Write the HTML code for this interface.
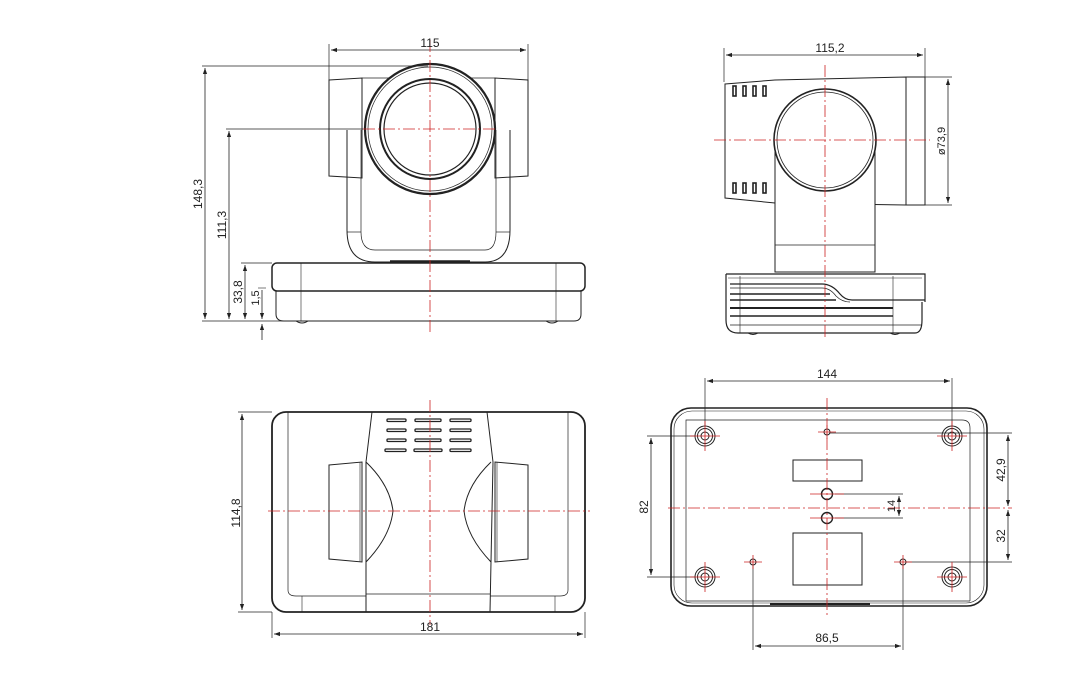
<!DOCTYPE html>
<html><head><meta charset="utf-8"><style>
html,body{margin:0;padding:0;background:#fff}
svg{display:block}
text{font-family:"Liberation Sans",sans-serif;font-size:12px;fill:#222}
</style></head><body>
<svg width="1071" height="680" viewBox="0 0 1071 680" xmlns="http://www.w3.org/2000/svg">
<defs>
<marker id="a" viewBox="0 0 10 10" refX="10" refY="5" markerWidth="8" markerHeight="6" orient="auto-start-reverse" markerUnits="userSpaceOnUse"><path d="M0,1.5 L10,5 L0,8.5 Z" fill="#222"/></marker>
</defs>
<g fill="none" stroke="#222" stroke-width="1">
<!-- ===== FRONT VIEW ===== -->
<line x1="329" y1="44" x2="329" y2="80" stroke-width="0.7"/>
<line x1="528" y1="44" x2="528" y2="80" stroke-width="0.7"/>
<line x1="331" y1="50" x2="526" y2="50" marker-start="url(#a)" marker-end="url(#a)" stroke-width="0.8"/>
<!-- ears -->
<path d="M329,80 L362,78 L362,178 L329,176 Z"/>
<path d="M528,80 L495,78 L495,178 L528,176 Z"/>
<line x1="362" y1="78" x2="400" y2="78" stroke-width="0.7"/>
<line x1="462" y1="78" x2="495" y2="78" stroke-width="0.7"/>
<!-- yoke -->
<path d="M347,130 L347,230 Q347,262 375,262 L485,262 Q510,262 510,230 L510,130"/>
<path d="M361,130 L361,232 Q361,250 375,250 L485,250 Q496,250 496,232 L496,130" stroke-width="0.7"/>
<line x1="347" y1="232" x2="361" y2="232" stroke-width="0.7"/>
<line x1="496" y1="232" x2="510" y2="232" stroke-width="0.7"/>
<!-- lens -->
<circle cx="430" cy="129" r="65" fill="#fff" stroke-width="2.2"/>
<circle cx="430" cy="129" r="62" stroke-width="0.7"/>
<circle cx="430" cy="129" r="50" stroke-width="2"/>
<circle cx="430" cy="129" r="46" stroke-width="1.2"/>
<!-- base -->
<rect x="272" y="263" width="313" height="28" rx="5" stroke-width="1.5"/>
<path d="M276,291 L276,314 Q276,321 284,321 L574,321 Q581,321 581,314 L581,291"/>
<line x1="301" y1="263" x2="301" y2="321" stroke-width="0.6"/>
<line x1="556" y1="263" x2="556" y2="321" stroke-width="0.6"/>
<line x1="390" y1="261" x2="470" y2="261" stroke-width="1.5"/>
<path d="M296,321 Q302,325 308,321 M546,321 Q552,325 558,321"/>
<!-- front dims -->
<line x1="202" y1="66" x2="428" y2="66" stroke-width="0.7"/>
<line x1="226" y1="129" x2="363" y2="129" stroke-width="0.8"/>
<line x1="241" y1="263" x2="272" y2="263" stroke-width="0.7"/>
<line x1="202" y1="321" x2="300" y2="321" stroke-width="0.7"/>
<line x1="258" y1="288" x2="266" y2="288" stroke-width="0.6"/>
<line x1="205" y1="68" x2="205" y2="319" marker-start="url(#a)" marker-end="url(#a)" stroke-width="0.8"/>
<line x1="229" y1="131" x2="229" y2="319" marker-start="url(#a)" marker-end="url(#a)" stroke-width="0.8"/>
<line x1="245" y1="265" x2="245" y2="319" marker-start="url(#a)" marker-end="url(#a)" stroke-width="0.8"/>
<line x1="262" y1="290" x2="262" y2="319" marker-end="url(#a)" stroke-width="0.8"/>
<line x1="262" y1="340" x2="262" y2="324" marker-end="url(#a)" stroke-width="0.8"/>

<!-- ===== SIDE VIEW ===== -->
<line x1="724" y1="48" x2="724" y2="82" stroke-width="0.7"/>
<line x1="925" y1="48" x2="925" y2="78" stroke-width="0.7"/>
<line x1="726" y1="55" x2="923" y2="55" marker-start="url(#a)" marker-end="url(#a)" stroke-width="0.8"/>
<path d="M725,84 L775,80 L906,77 L906,205 L775,203 L725,198 Z"/>
<rect x="906" y="77" width="19" height="128"/>
<line x1="925" y1="77" x2="952" y2="77" stroke-width="0.7"/>
<line x1="925" y1="205" x2="952" y2="205" stroke-width="0.7"/>
<line x1="948" y1="79" x2="948" y2="203" marker-start="url(#a)" marker-end="url(#a)" stroke-width="0.8"/>
<g stroke-width="1.6">
<rect x="733" y="86" width="3" height="10"/><rect x="743" y="86" width="3" height="10"/><rect x="753" y="86" width="3" height="10"/><rect x="763" y="86" width="3" height="10"/>
<rect x="733" y="183" width="3" height="10"/><rect x="743" y="183" width="3" height="10"/><rect x="753" y="183" width="3" height="10"/><rect x="763" y="183" width="3" height="10"/>
</g>
<path d="M775,140 L775,272 L875,272 L875,140" fill="#fff"/>
<line x1="775" y1="245" x2="875" y2="245" stroke-width="0.7"/>
<circle cx="825" cy="140" r="51" fill="#fff" stroke-width="1.6"/>
<circle cx="825" cy="140" r="48" stroke-width="0.8"/>
<!-- side base -->
<path d="M726,274 L925,274 L925,302 M726,274 L726,320 Q726,333 738,333 L915,333 Q922,333 922,320 L922,302" stroke-width="1.2"/>
<line x1="728" y1="278" x2="922" y2="278" stroke-width="0.6"/>
<line x1="740" y1="276" x2="740" y2="333" stroke-width="0.6"/>
<line x1="893" y1="276" x2="893" y2="333" stroke-width="0.6"/>
<path d="M730,284 L822,284 Q832,284 840,294 Q845,300 852,300 L925,300" stroke-width="1.2"/>
<path d="M730,288 L822,288 Q830,288 836,296 Q842,302 850,302" stroke-width="0.7"/>
<line x1="730" y1="294" x2="830" y2="294" stroke-width="1.5"/>
<line x1="730" y1="300" x2="836" y2="300" stroke-width="1.5"/>
<line x1="730" y1="308" x2="893" y2="308" stroke-width="2"/>
<line x1="730" y1="316" x2="893" y2="316" stroke-width="1.5"/>
<line x1="730" y1="325" x2="922" y2="325" stroke-width="0.8"/>
<path d="M748,333 Q753,336 758,333 M890,333 Q895,336 900,333"/>

<!-- ===== TOP VIEW ===== -->
<rect x="272" y="412" width="313" height="200" rx="14" stroke-width="1.8"/>
<path d="M288,412 L288,590 Q288,596 296,596 L366,596 M490,596 L560,596 Q568,596 568,590 L568,412" stroke-width="0.7"/>
<line x1="302" y1="596" x2="302" y2="612" stroke-width="0.6"/>
<line x1="555" y1="596" x2="555" y2="612" stroke-width="0.6"/>
<path d="M372,412 L366,462 L366,612 M487,412 L493,462 L490,612"/>
<line x1="366" y1="594" x2="490" y2="594" stroke-width="0.7"/>
<path d="M329,465 L362,462 L362,562 L329,559 Z"/>
<path d="M528,465 L495,462 L495,562 L528,559 Z"/>
<line x1="360" y1="462" x2="360" y2="562" stroke-width="0.6"/>
<line x1="497" y1="462" x2="497" y2="562" stroke-width="0.6"/>
<path d="M366,462 Q390,485 393,511 Q390,537 366,562"/>
<path d="M491,462 Q467,485 464,511 Q467,537 491,562"/>
<g stroke-width="1.3">
<rect x="387" y="419" width="19" height="2.5" rx="1"/><rect x="415" y="419" width="26" height="2.5" rx="1"/><rect x="450" y="419" width="21" height="2.5" rx="1"/>
<rect x="387" y="429" width="19" height="2.5" rx="1"/><rect x="415" y="429" width="26" height="2.5" rx="1"/><rect x="450" y="429" width="21" height="2.5" rx="1"/>
<rect x="387" y="439" width="19" height="2.5" rx="1"/><rect x="415" y="439" width="26" height="2.5" rx="1"/><rect x="450" y="439" width="21" height="2.5" rx="1"/>
<rect x="385" y="449" width="21" height="2.5" rx="1"/><rect x="414" y="449" width="28" height="2.5" rx="1"/><rect x="450" y="449" width="21" height="2.5" rx="1"/>
</g>
<line x1="238" y1="412" x2="272" y2="412" stroke-width="0.7"/>
<line x1="238" y1="612" x2="272" y2="612" stroke-width="0.7"/>
<line x1="242" y1="414" x2="242" y2="610" marker-start="url(#a)" marker-end="url(#a)" stroke-width="0.8"/>
<line x1="272" y1="612" x2="272" y2="638" stroke-width="0.7"/>
<line x1="585" y1="612" x2="585" y2="638" stroke-width="0.7"/>
<line x1="274" y1="634" x2="583" y2="634" marker-start="url(#a)" marker-end="url(#a)" stroke-width="0.8"/>

<!-- ===== BOTTOM VIEW ===== -->
<rect x="671" y="408" width="316" height="198" rx="20" stroke-width="1.6"/>
<rect x="674" y="411" width="310" height="192" rx="18" stroke-width="0.6"/>
<path d="M686,601 L686,420 L962,420 Q970,420 970,428 L970,601" stroke-width="0.7"/>
<line x1="686" y1="601" x2="970" y2="601" stroke-width="0.7"/>
<line x1="770" y1="604" x2="870" y2="604" stroke-width="2"/>
<g>
<circle cx="705" cy="436" r="10"/><circle cx="705" cy="436" r="7.5"/><circle cx="705" cy="436" r="4"/>
<circle cx="952" cy="436" r="10"/><circle cx="952" cy="436" r="7.5"/><circle cx="952" cy="436" r="4"/>
<circle cx="705" cy="577" r="10"/><circle cx="705" cy="577" r="7.5"/><circle cx="705" cy="577" r="4"/>
<circle cx="952" cy="577" r="10"/><circle cx="952" cy="577" r="7.5"/><circle cx="952" cy="577" r="4"/>
<circle cx="827" cy="432" r="3"/><circle cx="753" cy="562" r="3"/><circle cx="903" cy="562" r="3"/>
<circle cx="827" cy="494" r="5.5" stroke-width="1.4"/><circle cx="827" cy="518" r="5.5" stroke-width="1.4"/>
</g>
<rect x="793" y="460" width="69" height="21"/>
<rect x="793" y="533" width="69" height="52"/>
<!-- dims -->
<line x1="705" y1="378" x2="705" y2="426" stroke-width="0.7"/>
<line x1="952" y1="378" x2="952" y2="426" stroke-width="0.7"/>
<line x1="707" y1="381" x2="950" y2="381" marker-start="url(#a)" marker-end="url(#a)" stroke-width="0.8"/>
<line x1="647" y1="436" x2="695" y2="436" stroke-width="0.7"/>
<line x1="647" y1="577" x2="695" y2="577" stroke-width="0.7"/>
<line x1="651" y1="438" x2="651" y2="575" marker-start="url(#a)" marker-end="url(#a)" stroke-width="0.8"/>
<line x1="830" y1="433" x2="1012" y2="433" stroke-width="0.7"/>
<line x1="906" y1="562" x2="1012" y2="562" stroke-width="0.7"/>
<line x1="1008" y1="435" x2="1008" y2="506" marker-start="url(#a)" marker-end="url(#a)" stroke-width="0.8"/>
<line x1="1008" y1="510" x2="1008" y2="560" marker-start="url(#a)" marker-end="url(#a)" stroke-width="0.8"/>
<line x1="835" y1="494" x2="903" y2="494" stroke-width="0.7"/>
<line x1="835" y1="518" x2="903" y2="518" stroke-width="0.7"/>
<line x1="899" y1="496" x2="899" y2="516" marker-start="url(#a)" marker-end="url(#a)" stroke-width="0.7"/>
<line x1="753" y1="566" x2="753" y2="650" stroke-width="0.7"/>
<line x1="903" y1="566" x2="903" y2="650" stroke-width="0.7"/>
<line x1="755" y1="646" x2="901" y2="646" marker-start="url(#a)" marker-end="url(#a)" stroke-width="0.8"/>
</g>

<!-- red centerlines -->
<g stroke="#c22" stroke-width="0.8" stroke-dasharray="12,3,2,3" fill="none">
<line x1="430" y1="40" x2="430" y2="332"/>
<line x1="363" y1="129" x2="497" y2="129"/>
<line x1="825" y1="65" x2="825" y2="337"/>
<line x1="714" y1="140" x2="930" y2="140"/>
<line x1="430" y1="400" x2="430" y2="625"/>
<line x1="268" y1="511" x2="590" y2="511"/>
<line x1="827" y1="398" x2="827" y2="616"/>
<line x1="668" y1="508" x2="1012" y2="508"/>
</g>
<g stroke="#c22" stroke-width="0.8" fill="none">
<path d="M690,436h30M705,421v30M937,436h30M952,421v30M690,577h30M705,562v30M937,577h30M952,562v30"/>
<path d="M818,432h18M827,425v14M744,562h18M753,555v14M894,562h18M903,555v14"/>
<path d="M810,494h34M810,518h34"/>
</g>

<!-- labels -->
<text x="430" y="47" text-anchor="middle">115</text>
<text x="830" y="52" text-anchor="middle">115,2</text>
<text transform="translate(202,194) rotate(-90)" text-anchor="middle">148,3</text>
<text transform="translate(226,225) rotate(-90)" text-anchor="middle">111,3</text>
<text transform="translate(242,292) rotate(-90)" text-anchor="middle">33,8</text>
<text transform="translate(259,298) rotate(-90)" text-anchor="middle" style="font-size:11px">1,5</text>
<text transform="translate(945,141) rotate(-90)" text-anchor="middle" style="font-size:11px">ø73,9</text>
<text transform="translate(240,513) rotate(-90)" text-anchor="middle">114,8</text>
<text x="430" y="631" text-anchor="middle">181</text>
<text x="827" y="378" text-anchor="middle">144</text>
<text transform="translate(648,507) rotate(-90)" text-anchor="middle">82</text>
<text transform="translate(1005,470) rotate(-90)" text-anchor="middle">42,9</text>
<text transform="translate(1005,536) rotate(-90)" text-anchor="middle">32</text>
<text transform="translate(895,506) rotate(-90)" text-anchor="middle" style="font-size:11px">14</text>
<text x="827" y="642" text-anchor="middle">86,5</text>
</svg>
</body></html>
